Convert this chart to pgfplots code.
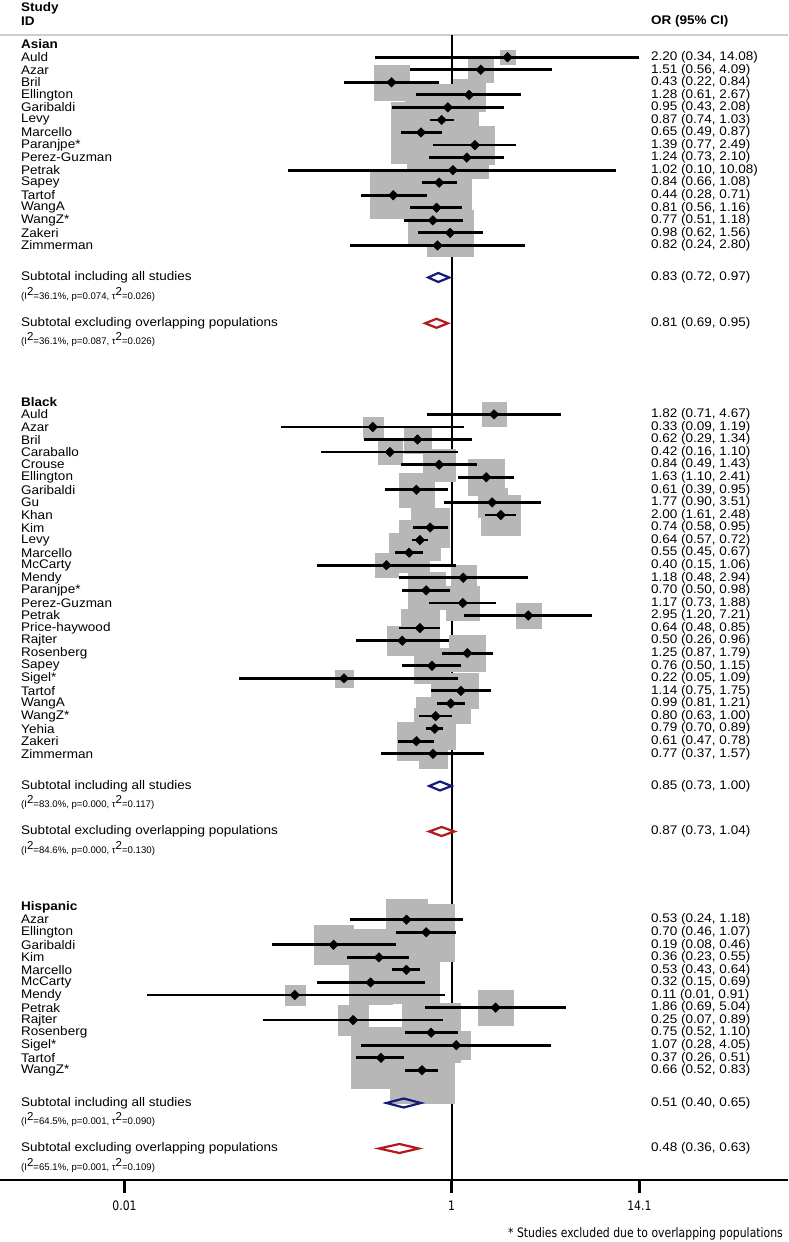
\documentclass[border=0pt]{standalone}
\usepackage{pgfplots}
\pgfplotsset{compat=1.18}
\usepackage{pgfplotstable}
\usepackage{fontspec}
\setmainfont{Liberation Sans}
\newfontfamily\dejavu{DejaVu Sans}
\definecolor{boxgray}{RGB}{183,183,183}
\definecolor{navyd}{RGB}{20,28,120}
\definecolor{redd}{RGB}{180,25,30}
\definecolor{hdrgray}{RGB}{205,205,205}
\newcommand\mainfs{\fontsize{12.5}{13}\selectfont}
\newcommand\smallfs{\fontsize{9.6}{10}\selectfont}
\newcommand\sups{\raisebox{4pt}{\fontsize{11.5}{12}\selectfont 2}}
\tikzset{nm/.style={anchor=west, inner sep=0pt, font=\mainfs, xscale=1.08},
         sm/.style={anchor=west, inner sep=0pt, font=\smallfs}}
\pgfplotsset{ciline/.style={forget plot, black, line width=2.8pt, mark=none}}

% y = vertical position (row), or, lo, hi, h = half side of weight box
\pgfplotstableread{
y name or lo hi h
-57.2 Auld 2.20 0.34 14.08 7.3
-69.8 Azar 1.51 0.56 4.09 12.4
-82.3 Bril 0.43 0.22 0.84 17.4
-94.9 Ellington 1.28 0.61 2.67 16.1
-107.4 Garibaldi 0.95 0.43 2.08 15.2
-120.0 Levy 0.87 0.74 1.03 36.2
-132.5 Marcello 0.65 0.49 0.87 30.2
-145.1 Paranjpe* 1.39 0.77 2.49 19.4
-157.6 Perez-Guzman 1.24 0.73 2.10 20.9
-170.2 Petrak 1.02 0.10 10.08 5.6
-182.7 Sapey 0.84 0.66 1.08 32.2
-195.3 Tartof 0.44 0.28 0.71 23.0
-207.8 WangA 0.81 0.56 1.16 26.7
-220.4 WangZ* 0.77 0.51 1.18 24.6
-232.9 Zakeri 0.98 0.62 1.56 23.1
-245.5 Zimmerman 0.82 0.24 2.80 10.2
}\asian

\pgfplotstableread{
y name or lo hi h
-414.4 Auld 1.82 0.71 4.67 12.0
-427.0 Azar 0.33 0.09 1.19 10.0
-439.5 Bril 0.62 0.29 1.34 13.6
-452.1 Caraballo 0.42 0.16 1.10 11.8
-464.7 Crouse 0.84 0.49 1.43 16.1
-477.3 Ellington 1.63 1.10 2.41 17.8
-489.8 Garibaldi 0.61 0.39 0.95 17.2
-502.4 Gu 1.77 0.90 3.51 14.5
-515.0 Khan 2.00 1.61 2.48 19.6
-527.5 Kim 0.74 0.58 0.95 19.3
-540.1 Levy 0.64 0.57 0.72 20.3
-552.7 Marcello 0.55 0.45 0.67 19.8
-565.2 McCarty 0.40 0.15 1.06 11.7
-577.8 Mendy 1.18 0.48 2.94 12.3
-590.4 Paranjpe* 0.70 0.50 0.98 18.4
-603.0 Perez-Guzman 1.17 0.73 1.88 16.8
-615.5 Petrak 2.95 1.20 7.21 12.4
-628.1 Price-haywood 0.64 0.48 0.85 19.0
-640.7 Rajter 0.50 0.26 0.96 14.8
-653.2 Rosenberg 1.25 0.87 1.79 18.1
-665.8 Sapey 0.76 0.50 1.15 17.5
-678.4 Sigel* 0.22 0.05 1.09 8.8
-690.9 Tartof 1.14 0.75 1.75 17.4
-703.5 WangA 0.99 0.81 1.21 19.7
-716.1 WangZ* 0.80 0.63 1.00 19.5
-728.7 Yehia 0.79 0.70 0.89 20.3
-741.2 Zakeri 0.61 0.47 0.78 19.3
-753.8 Zimmerman 0.77 0.37 1.57 14.0
}\black

\pgfplotstableread{
y name or lo hi cl h
-919.7 Azar 0.53 0.24 1.18 0.24 20.7
-932.3 Ellington 0.70 0.46 1.07 0.46 28.3
-944.8 Garibaldi 0.19 0.08 0.46 0.08 19.5
-957.4 Kim 0.36 0.23 0.55 0.23 28.0
-969.9 Marcello 0.53 0.43 0.64 0.43 33.0
-982.5 McCarty 0.32 0.15 0.69 0.15 21.3
-995.0 Mendy 0.11 0.01 0.91 0.0137 10.0
-1007.6 Petrak 1.86 0.69 5.04 0.69 17.8
-1020.1 Rajter 0.25 0.07 0.89 0.07 14.6
-1032.7 Rosenberg 0.75 0.52 1.10 0.52 29.4
-1045.2 Sigel* 1.07 0.28 4.05 0.28 14.1
-1057.8 Tartof 0.37 0.26 0.51 0.26 30.3
-1070.3 WangZ* 0.66 0.52 0.83 0.52 32.4
}\hispanic

\newcommand\drawgroup[2]{%
  \addplot[forget plot, color=boxgray, only marks, mark=square*, scatter,
    mark options={draw=boxgray, fill=boxgray, line width=0.1pt},
    scatter/use mapped color={draw=boxgray, fill=boxgray},
    visualization depends on={\thisrow{h} \as \hs},
    scatter/@pre marker code/.append style={/tikz/mark size=\hs}]
    table[x=or, y=y] {#1};
  \pgfplotstablegetrowsof{#1}%
  \pgfmathtruncatemacro\nr{\pgfplotsretval-1}%
  \pgfplotsforeachungrouped \i in {0,...,\nr}{%
    \pgfplotstablegetelem{\i}{y}\of{#1}\let\ciY\pgfplotsretval
    \pgfplotstablegetelem{\i}{#2}\of{#1}\let\ciL\pgfplotsretval
    \pgfplotstablegetelem{\i}{lo}\of{#1}\let\ciT\pgfplotsretval
    \pgfplotstablegetelem{\i}{hi}\of{#1}\let\ciH\pgfplotsretval
    \pgfplotstablegetelem{\i}{or}\of{#1}\let\ciO\pgfplotsretval
    \pgfplotstablegetelem{\i}{name}\of{#1}\let\ciN\pgfplotsretval
    \edef\tmp{\noexpand\addplot[ciline] coordinates {(\ciL,\ciY) (\ciH,\ciY)};
      \noexpand\node[nm] at (axis cs:0.002328,\ciY) {\ciN};
      \noexpand\node[nm] at (axis cs:16.6,\ciY) {\ciO\space(\ciT, \ciH)};}%
    \tmp
  }%
  \addplot[forget plot, only marks, mark=diamond*, mark size=4.8pt,
    mark options={xscale=1.35, draw=black, fill=black}] table[x=or, y=y] {#1};
}

\begin{document}
\begin{tikzpicture}
\useasboundingbox (0pt,-62pt) rectangle (788pt,1180pt);
\begin{axis}[
  at={(0pt,0pt)}, anchor=south west, scale only axis,
  width=788pt, height=1180pt,
  xmode=log, xmin=0.0017315, xmax=114.3, ymin=-1180, ymax=0,
  axis x line*=bottom, axis y line=none, ytick=\empty,
  x axis line style={line width=2.2pt, -},
  xtick={0.01,1,14.1}, xticklabels={0.01,1,14.1}, xminorticks=false,
  tick align=outside, major tick length=13pt,
  tick style={line width=2.2pt, black},
  xticklabel style={font=\dejavu\fontsize{13}{14}\selectfont, xscale=0.835, yshift=-4pt},
  clip=false, clip marker paths=true,
]
% header line and line of no effect
\addplot[forget plot, hdrgray, line width=2pt] coordinates {(0.0017315,-35) (114.3,-35)};
\addplot[forget plot, black, line width=2pt] coordinates {(1,-35) (1,-1180)};

\node[nm, font=\mainfs\bfseries] at (axis cs:0.002328,-8.5) {Study};
\node[nm, font=\mainfs\bfseries] at (axis cs:0.002328,-21) {ID};
\node[nm, font=\mainfs\bfseries] at (axis cs:16.6,-21) {OR (95\% CI)};

\node[nm, font=\mainfs\bfseries] at (axis cs:0.002328,-44.5) {Asian};
\drawgroup{\asian}{lo}
\node[nm, font=\mainfs\bfseries] at (axis cs:0.002328,-402) {Black};
\drawgroup{\black}{lo}
\node[nm, font=\mainfs\bfseries] at (axis cs:0.002328,-907) {Hispanic};
\drawgroup{\hispanic}{cl}

% subtotals
\addplot[forget plot, draw=navyd, line width=2.2pt, line join=miter] coordinates {(0.72,-277.5) (0.83,-273) (0.97,-277.5) (0.83,-282)} -- cycle;
\node[nm] at (axis cs:0.002328,-277.5) {Subtotal including all studies};
\node[sm] at (axis cs:0.002328,-294) {(I\sups=36.1\%, p=0.074, τ\sups=0.026)};
\node[nm] at (axis cs:16.6,-277.5) {0.83 (0.72, 0.97)};

\addplot[forget plot, draw=redd, line width=2.2pt, line join=miter] coordinates {(0.69,-323.3) (0.81,-318.8) (0.95,-323.3) (0.81,-327.8)} -- cycle;
\node[nm] at (axis cs:0.002328,-323.3) {Subtotal excluding overlapping populations};
\node[sm] at (axis cs:0.002328,-339.5) {(I\sups=36.1\%, p=0.087, τ\sups=0.026)};
\node[nm] at (axis cs:16.6,-323.3) {0.81 (0.69, 0.95)};

\addplot[forget plot, draw=navyd, line width=2.2pt, line join=miter] coordinates {(0.73,-786) (0.85,-781.5) (1.00,-786) (0.85,-790.5)} -- cycle;
\node[nm] at (axis cs:0.002328,-786) {Subtotal including all studies};
\node[sm] at (axis cs:0.002328,-802.5) {(I\sups=83.0\%, p=0.000, τ\sups=0.117)};
\node[nm] at (axis cs:16.6,-786) {0.85 (0.73, 1.00)};

\addplot[forget plot, draw=redd, line width=2.2pt, line join=miter] coordinates {(0.73,-831.5) (0.87,-827) (1.04,-831.5) (0.87,-836)} -- cycle;
\node[nm] at (axis cs:0.002328,-831.5) {Subtotal excluding overlapping populations};
\node[sm] at (axis cs:0.002328,-848) {(I\sups=84.6\%, p=0.000, τ\sups=0.130)};
\node[nm] at (axis cs:16.6,-831.5) {0.87 (0.73, 1.04)};

\addplot[forget plot, draw=navyd, line width=2.2pt, line join=miter] coordinates {(0.40,-1103) (0.51,-1098.5) (0.65,-1103) (0.51,-1107.5)} -- cycle;
\node[nm] at (axis cs:0.002328,-1103) {Subtotal including all studies};
\node[sm] at (axis cs:0.002328,-1119.5) {(I\sups=64.5\%, p=0.001, τ\sups=0.090)};
\node[nm] at (axis cs:16.6,-1103) {0.51 (0.40, 0.65)};

\addplot[forget plot, draw=redd, line width=2.2pt, line join=miter] coordinates {(0.36,-1148.5) (0.48,-1144) (0.63,-1148.5) (0.48,-1153)} -- cycle;
\node[nm] at (axis cs:0.002328,-1148.5) {Subtotal excluding overlapping populations};
\node[sm] at (axis cs:0.002328,-1165) {(I\sups=65.1\%, p=0.001, τ\sups=0.109)};
\node[nm] at (axis cs:16.6,-1148.5) {0.48 (0.36, 0.63)};

\node[anchor=east, inner sep=0pt, font=\dejavu\fontsize{13}{14}\selectfont, xscale=0.835] at (axis cs:106.5,-1234) {* Studies excluded due to overlapping populations};
\end{axis}
\end{tikzpicture}
\end{document}
